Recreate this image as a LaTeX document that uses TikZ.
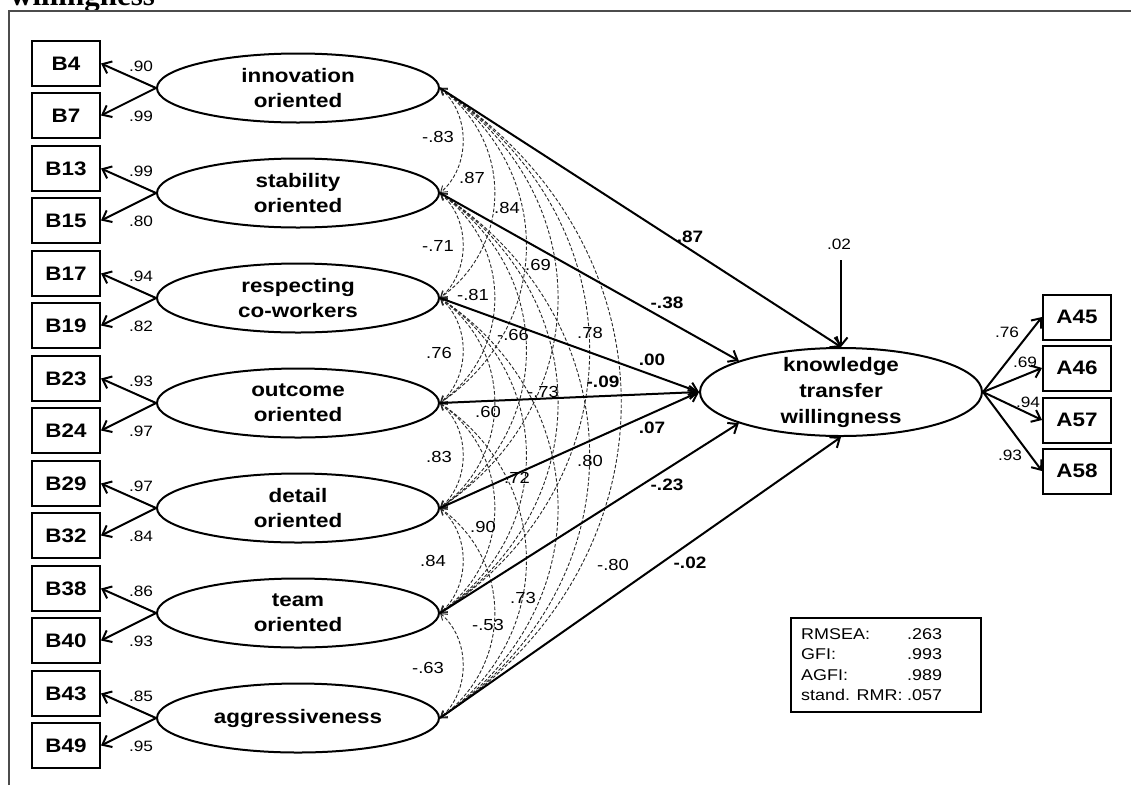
\documentclass[tikz,border=0pt]{standalone}
\usepackage{fontspec}
\setmainfont{Liberation Sans}[FakeStretch=1.15]
\newfontfamily\headfont{Liberation Serif}
\usetikzlibrary{arrows.meta,calc,shapes.geometric}
\begin{document}
\begin{tikzpicture}[x=1pt,y=-1pt,
  obs/.style={draw,line width=2pt,minimum width=68pt,minimum height=45pt,inner sep=0pt,font=\fontsize{19.5}{21}\selectfont\bfseries},
  lat/.style={draw,ellipse,line width=2pt,minimum width=282pt,minimum height=69pt,inner sep=0pt},
  lattext/.style={align=center,font=\fontsize{19.5}{25}\selectfont\bfseries,inner sep=0pt},
  ld/.style={line width=2pt,-{Straight Barb[length=8pt,width=13pt,line width=2pt]}},
  corr/.style={dash pattern=on 3.5pt off 2pt,line width=0.9pt,draw=black!85,
    {Straight Barb[length=6pt,width=8pt,line width=0.9pt]}-{Straight Barb[length=6pt,width=8pt,line width=0.9pt]}},
  lbl/.style={font=\fontsize{15}{16}\selectfont,inner sep=0pt},
  clbl/.style={font=\fontsize{16}{17}\selectfont,inner sep=0pt},
  blbl/.style={font=\fontsize{16.5}{17}\selectfont\bfseries,inner sep=0pt},
  fbtext/.style={font=\fontsize{15.6}{17}\selectfont,inner sep=0pt,anchor=base west}
]
\useasboundingbox (0,0) rectangle (1131,785);
\node[anchor=base west,font=\headfont\fontsize{31}{31}\selectfont\bfseries,inner sep=0pt] (head) at (10,5) {willingness};
\draw[line width=1.5pt,draw=black!70] (9,785) -- (9,11) -- (1131,11);

% latent exogenous
\node[lat] (l1) at (298,88) {};  \node[lattext] (t1) at (l1) {innovation\\oriented};
\node[lat] (l2) at (298,193) {}; \node[lattext] (t2) at (l2) {stability\\oriented};
\node[lat] (l3) at (298,298) {}; \node[lattext] (t3) at (l3) {respecting\\co-workers};
\node[lat] (l4) at (298,403) {}; \node[lattext] (t4) at (l4) {outcome\\oriented};
\node[lat] (l5) at (298,508) {}; \node[lattext] (t5) at (l5) {detail\\oriented};
\node[lat] (l6) at (298,613) {}; \node[lattext] (t6) at (l6) {team\\oriented};
\node[lat] (l7) at (298,718) {}; \node[lattext] (t7) at (l7) {aggressiveness};

% observed
\node[obs] (b4)  at (66,63.5)  {B4};
\node[obs] (b7)  at (66,115.5) {B7};
\node[obs] (b13) at (66,168.5) {B13};
\node[obs] (b15) at (66,220.5) {B15};
\node[obs] (b17) at (66,273.5) {B17};
\node[obs] (b19) at (66,325.5) {B19};
\node[obs] (b23) at (66,378.5) {B23};
\node[obs] (b24) at (66,430.5) {B24};
\node[obs] (b29) at (66,483.5) {B29};
\node[obs] (b32) at (66,535.5) {B32};
\node[obs] (b38) at (66,588.5) {B38};
\node[obs] (b40) at (66,640.5) {B40};
\node[obs] (b43) at (66,693.5) {B43};
\node[obs] (b49) at (66,745.5) {B49};

% loadings
\draw[ld] (l1.west) -- (b4.east);  \draw[ld] (l1.west) -- (b7.east);
\draw[ld] (l2.west) -- (b13.east); \draw[ld] (l2.west) -- (b15.east);
\draw[ld] (l3.west) -- (b17.east); \draw[ld] (l3.west) -- (b19.east);
\draw[ld] (l4.west) -- (b23.east); \draw[ld] (l4.west) -- (b24.east);
\draw[ld] (l5.west) -- (b29.east); \draw[ld] (l5.west) -- (b32.east);
\draw[ld] (l6.west) -- (b38.east); \draw[ld] (l6.west) -- (b40.east);
\draw[ld] (l7.west) -- (b43.east); \draw[ld] (l7.west) -- (b49.east);

\node[lbl] (x1) at (141,66) {.90};  \node[lbl] (x2) at (141,116) {.99};
\node[lbl] (x3) at (141,171) {.99}; \node[lbl] (x4) at (141,221) {.80};
\node[lbl] (x5) at (141,276) {.94}; \node[lbl] (x6) at (141,326) {.82};
\node[lbl] (x7) at (141,381) {.93}; \node[lbl] (x8) at (141,431) {.97};
\node[lbl] (x9) at (141,486) {.97}; \node[lbl] (x10) at (141,536) {.84};
\node[lbl] (x11) at (141,591) {.86}; \node[lbl] (x12) at (141,641) {.93};
\node[lbl] (x13) at (141,696) {.85}; \node[lbl] (x14) at (141,746) {.95};

% endogenous
\node[lat,minimum height=88pt] (kt) at (841,392) {};
\node[lattext,font=\fontsize{19.5}{26}\selectfont\bfseries] (ktt) at (kt) {knowledge\\transfer\\willingness};

\node[obs] (a45) at (1077,317) {A45};
\node[obs] (a46) at (1077,368) {A46};
\node[obs] (a57) at (1077,420) {A57};
\node[obs] (a58) at (1077,471) {A58};
\draw[ld] (kt.east) -- (a45.west);
\draw[ld] (kt.east) -- (a46.west);
\draw[ld] (kt.east) -- (a57.west);
\draw[ld] (kt.east) -- (a58.west);
\node[lbl] (y1) at (1007,332) {.76};
\node[lbl] (y2) at (1025,362) {.69};
\node[lbl] (y3) at (1028,402) {.94};
\node[lbl] (y4) at (1010,455) {.93};

% residual
\node[lbl] (res) at (839,244) {.02};
\coordinate (rs) at (841,260);
\draw[ld] (rs) -- (kt.north);

% correlations
\foreach \i in {1,...,6}{
  \pgfmathtruncatemacro{\ip}{\i+1}
  \foreach \j in {\ip,...,7}{
    \pgfmathsetmacro{\cc}{(23+31.6*(\j-\i-1))/0.75}
    \pgfmathsetmacro{\dd}{26.25*(\j-\i)}
    \draw[corr] (l\i.east) .. controls ($(l\i.east)+(\cc,\dd)$) and ($(l\j.east)+(\cc,-\dd)$) .. (l\j.east);
  }
}

% structural paths
\draw[ld] (l1.east) -- (kt.north);
\draw[ld] (l2.east) -- (kt.163);
\draw[ld] (l3.east) -- (kt.west);
\draw[ld] (l4.east) -- (kt.west);
\draw[ld] (l5.east) -- (kt.west);
\draw[ld] (l6.east) -- (kt.197);
\draw[ld] (l7.east) -- (kt.south);

% correlation labels
\node[clbl] (c1) at (438,137) {-.83};
\node[clbl] (c2) at (472,178) {.87};
\node[clbl] (c3) at (507,208) {.84};
\node[clbl] (c4) at (538,265) {.69};
\node[clbl] (c5) at (590,333) {.78};
\node[clbl] (c6) at (438,246) {-.71};
\node[clbl] (c7) at (473,295) {-.81};
\node[clbl] (c8) at (513,335) {-.66};
\node[clbl] (c9) at (543,392) {-.73};
\node[clbl] (c10) at (439,353) {.76};
\node[clbl] (c11) at (488,412) {.60};
\node[clbl] (c12) at (517,478) {.72};
\node[clbl] (c13) at (590,461) {.80};
\node[clbl] (c14) at (439,457) {.83};
\node[clbl] (c15) at (483,527) {.90};
\node[clbl] (c16) at (523,598) {.73};
\node[clbl] (c17) at (433,561) {.84};
\node[clbl] (c18) at (488,625) {-.53};
\node[clbl] (c19) at (428,668) {-.63};
\node[clbl] (c20) at (613,565) {-.80};

% path labels
\node[blbl] (p1) at (690,237) {.87};
\node[blbl] (p2) at (667,303) {-.38};
\node[blbl] (p3) at (652,360) {.00};
\node[blbl] (p4) at (603,382) {-.09};
\node[blbl] (p5) at (652,428) {.07};
\node[blbl] (p6) at (667,485) {-.23};
\node[blbl] (p7) at (690,563) {-.02};

% fit box
\node[draw,line width=2pt,minimum width=190pt,minimum height=94pt,inner sep=0pt] (fb) at (886,665) {};
\node[fbtext] (f1) at (801,639) {RMSEA:};
\node[fbtext] (f2) at (801,659.5) {GFI:};
\node[fbtext] (f3) at (801,680) {AGFI:};
\node[fbtext] (f4) at (801,700.5) {stand. RMR:};
\node[fbtext] (v1) at (907,639) {.263};
\node[fbtext] (v2) at (907,659.5) {.993};
\node[fbtext] (v3) at (907,680) {.989};
\node[fbtext] (v4) at (907,700.5) {.057};
\end{tikzpicture}
\end{document}
